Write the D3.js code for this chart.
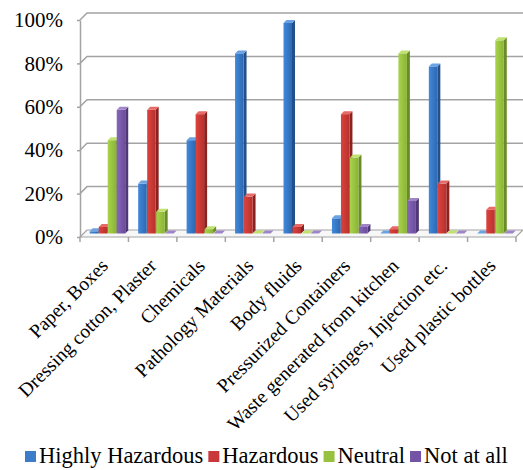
<!DOCTYPE html>
<html>
<head>
<meta charset="utf-8">
<script src="https://cdn.jsdelivr.net/npm/d3@7"></script>
<style>
  html, body { margin: 0; padding: 0; background: #fff; }
  svg { display: block; }
  svg text { font-family: "Liberation Serif", "Times New Roman", Times, serif; fill: #000; }
</style>
</head>
<body>
<svg id="chart" width="523" height="470"></svg>
<script>
// Waste categories and the share of respondents per perception class (%)
const categories = [
  "Paper, Boxes",
  "Dressing cotton, Plaster",
  "Chemicals",
  "Pathology Materials",
  "Body fluids",
  "Pressurized Containers",
  "Waste generated from kitchen",
  "Used syringes, Injection etc.",
  "Used plastic bottles"
];
const seriesNames = ["Highly Hazardous", "Hazardous", "Neutral", "Not at all"];
const highlyHazardous = [1, 23, 43, 83, 97, 7, 0, 77, 0];
const hazardous       = [3, 57, 55, 17, 3, 55, 2, 23, 11];
const neutral         = [43, 10, 2, 0, 0, 35, 83, 0, 89];
const notAtAll        = [57, 0, 0, 0, 0, 3, 15, 0, 0];
const yTicks = [0, 20, 40, 60, 80, 100];

const seriesValues = [highlyHazardous, hazardous, neutral, notAtAll];
const serif = '"Liberation Serif", "Times New Roman", Times, serif';

// face colours: [front light, front dark, side, top]
const palette = [
  ["#4189dc", "#2e68b0", "#22508a", "#6aa2e4"],
  ["#dc433e", "#b8302d", "#8c2220", "#e66a66"],
  ["#a9d24c", "#8ab436", "#698c27", "#c0e170"],
  ["#8766b8", "#6b4d9a", "#503877", "#a084c8"]
];
const legendColors = ["#3c7cc8", "#c9383a", "#96c23f", "#7453a6"];

const svg = d3.select("#chart");
const defs = svg.append("defs");
palette.forEach((p, i) => {
  const g = defs.append("linearGradient").attr("id", "front" + i)
    .attr("x1", "0").attr("x2", "1").attr("y1", "0").attr("y2", "0");
  g.append("stop").attr("offset", "0").attr("stop-color", p[0]);
  g.append("stop").attr("offset", "1").attr("stop-color", p[1]);
});

// front plane of the plot and the depth of the 3D box
const left = 80, right = 516, depthX = 7, depthY = -7;
const x = d3.scaleBand().domain(categories).range([left, right]).padding(0);
const groupW = 36;
const xs = d3.scaleBand().domain(seriesNames)
  .range([(x.bandwidth() - groupW) / 2, (x.bandwidth() + groupW) / 2]).padding(0);
const y = d3.scaleLinear().domain([0, 100]).range([237, 20]);

const gridColor = "#a3a3a3";

// floor of the box
const y0 = y(0);
svg.append("path")
  .attr("d", `M${left},${y0} L${right},${y0} L${right + depthX},${y0 + depthY} L${left + depthX},${y0 + depthY} Z`)
  .attr("fill", "#f7f7f7").attr("stroke", gridColor).attr("stroke-width", 1.2);

// gridlines on the side and back walls
svg.append("g").selectAll("path").data(yTicks.slice(1)).join("path")
  .attr("d", d => `M${left},${y(d)} L${left + depthX},${y(d) + depthY} L523,${y(d) + depthY}`)
  .attr("fill", "none").attr("stroke", gridColor).attr("stroke-width", 1.5);

// y axis
const yAxis = d3.axisLeft(y).tickValues(yTicks).tickFormat(d => d + "%")
  .tickSizeInner(3).tickSizeOuter(0).tickPadding(14);
const ga = svg.append("g").attr("transform", `translate(${left},0)`).call(yAxis);
ga.attr("font-family", null);
ga.select(".domain").attr("stroke", gridColor).attr("stroke-width", 1.5);
ga.selectAll(".tick line").attr("stroke", gridColor).attr("stroke-width", 1.5);
ga.selectAll(".tick text").attr("font-size", 21).style("font-family", serif);

// category tick marks on the front floor edge
const bounds = categories.map(c => x(c)).concat([right]);
svg.append("g").selectAll("line").data(bounds).join("line")
  .attr("x1", d => d).attr("x2", d => d).attr("y1", y0).attr("y2", y0 + 5)
  .attr("stroke", gridColor).attr("stroke-width", 1.5);

// 3D columns, placed halfway into the box depth
const midX = depthX / 2, midY = depthY / 2;
const bw = 8.5, bdx = 3, bdy = -3;
const bars = svg.append("g");
categories.forEach((c, ci) => {
  seriesNames.forEach((s, si) => {
    const v = seriesValues[si][ci];
    const bx = x(c) + xs(s) + midX;
    const by = y(v) + midY;
    const base = y(0) + midY;
    const p = palette[si];
    const g = bars.append("g");
    // side face
    g.append("path")
      .attr("d", `M${bx + bw},${base} L${bx + bw + bdx},${base + bdy} L${bx + bw + bdx},${by + bdy} L${bx + bw},${by} Z`)
      .attr("fill", p[2]);
    // front face
    g.append("rect").attr("x", bx).attr("y", by).attr("width", bw).attr("height", Math.max(0, base - by))
      .attr("fill", `url(#front${si})`);
    // top face
    g.append("path")
      .attr("d", `M${bx},${by} L${bx + bw},${by} L${bx + bw + bdx},${by + bdy} L${bx + bdx},${by + bdy} Z`)
      .attr("fill", p[3]);
  });
});

// rotated category labels
svg.append("g").selectAll("text").data(categories).join("text")
  .attr("transform", d => `translate(${x(d) + x.bandwidth() / 2 + 5},${y0 + 30}) rotate(-45)`)
  .attr("text-anchor", "end")
  .attr("font-size", 19.5)
  .style("font-family", serif)
  .text(d => d);

// legend, items laid out one after another
const legend = svg.append("g").attr("transform", "translate(25,463)");
let lx = 0;
seriesNames.forEach((s, i) => {
  legend.append("rect").attr("x", lx).attr("y", -12).attr("width", 11).attr("height", 11)
    .attr("fill", legendColors[i]);
  const t = legend.append("text").attr("x", lx + 14).attr("y", 0).attr("font-size", 22.5)
    .style("font-family", serif).text(s);
  lx += 14 + t.node().getComputedTextLength() + 5;
});
</script>
</body>
</html>
